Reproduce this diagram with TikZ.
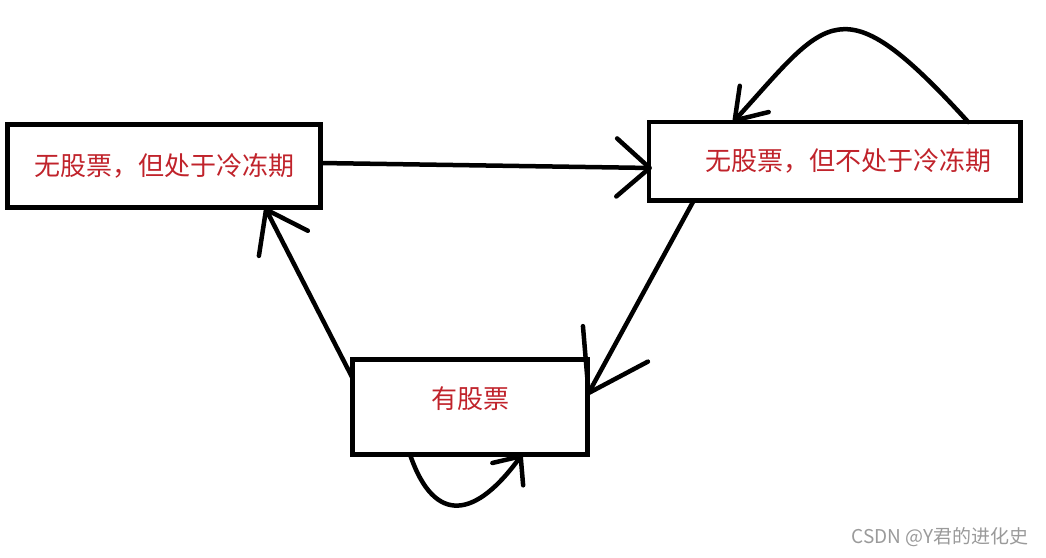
\documentclass[tikz,border=0pt]{standalone}
\usepackage{fontspec}
\setmainfont{Noto Sans CJK SC}
\usetikzlibrary{arrows.meta}
\definecolor{clrState}{HTML}{C0232B}
\definecolor{clrMark}{HTML}{9A9A9A}

\begin{document}
\begin{tikzpicture}[
  x=1pt, y=-1pt,
  statebox/.style = {
    rectangle,
    draw,
    line width=4.5pt,
    outer sep=0pt,
    inner sep=0pt,
    font=\fontsize{26}{30}\selectfont,
    text=clrState
  },
  flow/.style 2 args = {
    -{Straight Barb[length=#1, width=#2, round]},
    line width=4.5pt,
    line cap=round
  },
  watermark/.style = {
    font=\fontsize{19}{22}\selectfont,
    text=clrMark
  }
]
\useasboundingbox (0,0) rectangle (1046,557);

% ── nodes ────────────────────────────────────────────────────────────────────
\node[statebox, minimum width=313pt, minimum height=83pt] (cool) at (164,166)
  {无股票，但处于冷冻期};
\node[statebox, minimum width=371.5pt, minimum height=78.5pt] (free) at (834.7,161.3)
  {\hspace*{28pt}无股票，但不处于冷冻期};
\node[statebox, minimum width=235pt, minimum height=95pt, text depth=18pt] (hold) at (470,407)
  {有股票};

\node[watermark] (csdn) at (940,537) {CSDN @Y君的进化史};

% ── arrows ───────────────────────────────────────────────────────────────────
\draw[flow={33pt}{58pt}] ([yshift=3pt]cool.east) -- ([xshift=3pt, yshift=-6.7pt]free.west);
\draw[flow={56pt}{74pt}] ([xshift=-141pt]free.south) -- ([yshift=12pt]hold.east);
\draw[flow={38pt}{55pt}] ([yshift=29pt]hold.west) -- ([xshift=101pt]cool.south);

% ── self loops ───────────────────────────────────────────────────────────────
\draw[flow={29pt}{39pt}] ([xshift=133.5pt]free.north)
  .. controls +(-128,-141) and +(95,-104.5) .. ([xshift=-101.5pt]free.north);
\draw[flow={22pt}{38pt}] ([xshift=-60pt]hold.south)
  .. controls +(25,73) and +(-45,62) .. ([xshift=52pt]hold.south);

\end{tikzpicture}
\end{document}
